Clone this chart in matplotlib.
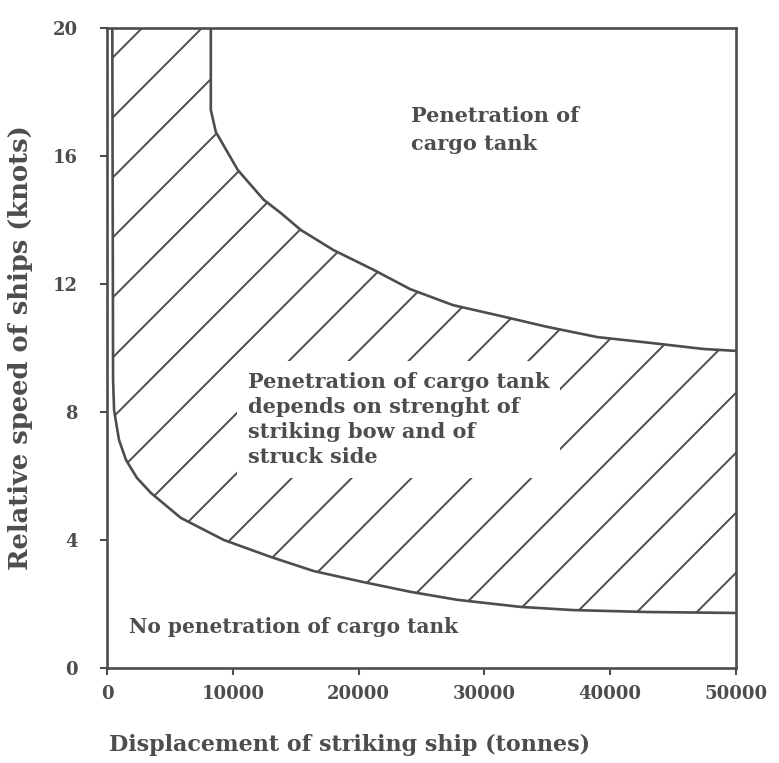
import matplotlib
matplotlib.use("Agg")
import matplotlib.pyplot as plt
from matplotlib.patches import Polygon
import numpy as np

# upper boundary: above it the cargo tank is penetrated
upper_x = [8250, 8250, 8650, 10400, 12460, 13810, 15400, 18000, 21200, 24100,
           27500, 31300, 35000, 39000, 43200, 47400, 50000]
upper_y = [20.0, 17.44, 16.75, 15.56, 14.63, 14.22, 13.69, 13.06, 12.44, 11.84,
           11.34, 11.0, 10.66, 10.34, 10.16, 9.97, 9.91]

# lower boundary: below it there is no penetration
lower_x = [420, 480, 560, 950, 1510, 2380, 3490, 5870, 9290, 13020, 16430,
           20320, 24130, 27860, 32860, 37060, 42940, 50000]
lower_y = [20.0, 9.0, 8.06, 7.13, 6.5, 5.94, 5.47, 4.69, 4.0, 3.47, 3.03,
           2.69, 2.38, 2.13, 1.91, 1.81, 1.75, 1.72]

x_ticks = [0, 10000, 20000, 30000, 40000, 50000]
y_ticks = [0, 4, 8, 12, 16, 20]

ink = "#4d4d4d"

plt.rcParams["font.family"] = "DejaVu Serif"
plt.rcParams["font.weight"] = "bold"

fig = plt.figure(figsize=(7.79, 7.63), dpi=100)
ax = fig.add_axes([0.1374, 0.1245, 0.8074, 0.8388])

ax.set_xlim(0, 50000)
ax.set_ylim(0, 20)

# hatched zone between the two curves
verts = list(zip(upper_x, upper_y)) + [(50000, lower_y[-1])] + list(zip(lower_x[::-1], lower_y[::-1]))
zone = Polygon(verts, closed=True, facecolor="none", edgecolor="none")
ax.add_patch(zone)

hx = np.array([0, 50000])
for n in range(-2, 26):
    hy = 18.9 - 1.875 * n + 0.000394 * hx
    ln, = ax.plot(hx, hy, color=ink, lw=1.4, zorder=2)
    ln.set_clip_path(zone)

ax.plot(upper_x, upper_y, color=ink, lw=1.9, zorder=3)
ax.plot(lower_x, lower_y, color=ink, lw=1.9, zorder=3)

ax.text(24200, 17.55, "Penetration of\ncargo tank", color=ink, fontsize=15,
        va="top", ha="left", linespacing=1.45)
ax.text(11200, 9.25, "Penetration of cargo tank\ndepends on strenght of\nstriking bow and of\nstruck side",
        color=ink, fontsize=15, va="top", ha="left", linespacing=1.32, zorder=5,
        bbox=dict(facecolor="white", edgecolor="none", pad=8))
ax.text(1750, 1.28, "No penetration of cargo tank", color=ink, fontsize=14.5,
        va="center", ha="left")

ax.set_xticks(x_ticks)
ax.set_xticklabels([str(v) for v in x_ticks])
ax.set_yticks(y_ticks)
ax.tick_params(axis="both", direction="out", length=5, width=1.5, color=ink,
               labelcolor=ink, labelsize=13)
ax.tick_params(axis="y", pad=16)
ax.tick_params(axis="x", pad=7)

for s in ax.spines.values():
    s.set_color(ink)
    s.set_linewidth(1.9)

ax.set_xlabel("Displacement of striking ship (tonnes)", fontsize=16,
              fontweight="bold", color=ink)
ax.xaxis.set_label_coords(0.385, -0.103)
ax.set_ylabel("Relative speed of ships (knots)", fontsize=18.5,
              fontweight="bold", color=ink)
ax.yaxis.set_label_coords(-0.118, 0.5)

fig.savefig("out.png", dpi=100)
